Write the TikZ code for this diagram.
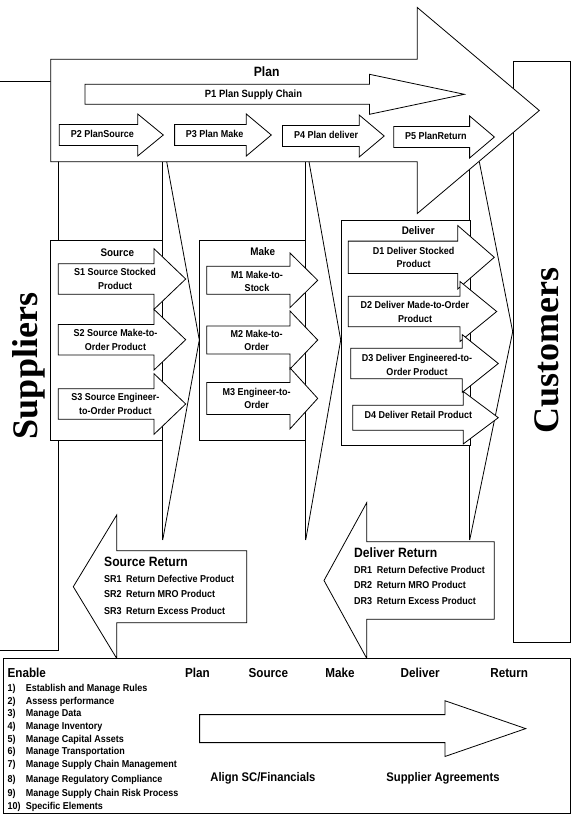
\documentclass[tikz,border=0pt]{standalone}
\usepackage{fontspec}
\newfontfamily\condsans{Liberation Sans}[FakeStretch=0.9]
\newfontfamily\sideserif{Liberation Serif}
\usetikzlibrary{positioning, math}
\tikzset{%
  % outline of every block and arrow, filled so it hides what lies below
  procbox/.style={draw=black, fill=white, line width=0.8pt, line join=miter},
  % swim lane edges and chevrons
  lane/.style={draw=black, line width=0.8pt},
  % text in the process arrows
  steptext/.style={font=\condsans\bfseries\fontsize{10}{13.5}\selectfont, align=center, inner sep=0pt},
  % titles of the blocks
  blocktitle/.style={font=\condsans\bfseries\fontsize{11}{13}\selectfont, inner sep=0pt},
  bigtitle/.style={font=\condsans\bfseries\fontsize{13.5}{15}\selectfont, inner sep=0pt},
  % suppliers and customers
  sidetext/.style={font=\sideserif\bfseries\fontsize{36}{36}\selectfont, rotate=90, inner sep=0pt}
}
% block arrow: tail x, tip x, head base x, middle y, half body, half head
\newcommand{\blockarrow}[6]{%
  \draw[procbox] (#1,{#4-#5}) -- (#3,{#4-#5}) -- (#3,{#4-#6}) -- (#2,#4)
    -- (#3,{#4+#6}) -- (#3,{#4+#5}) -- (#1,{#4+#5}) -- cycle;}

\begin{document}
\begin{tikzpicture}[x=1pt, y=-1pt]
  \useasboundingbox (0,0) rectangle (576,825);
  % supplier side and swim lanes
  \draw[lane] (0,81.7) -- (58.3,81.7) -- (58.3,650) -- (0,650);
  \foreach \lx/\cx/\px/\py in {162.7/166.7/199.3/340, 305.7/309.0/340.7/340, 469.7/479.3/512.7/331.7} {
    \draw[lane] (\lx,161.7) -- (\lx,540);
    \draw[lane] (\cx,161.7) -- (\px,\py) -- (\lx,540);
  }
  \draw[procbox] (513.3,61) rectangle (570,642.7);
  \node[sidetext] (suppliers) at (29,366) {Suppliers};
  \node[sidetext] (customers) at (546.7,350.8) {Customers};

  % plan
  \blockarrow{50.7}{539.3}{417.3}{110.5}{51.2}{103}
  \blockarrow{85}{464.3}{369.5}{94.3}{10}{20}
  \foreach \a/\b/\c/\y in {59.3/163.3/137.7/135, 174.6/271.3/246.3/135, 282.4/384.2/359.2/136, 393.7/494.4/469.6/137}
    \blockarrow{\a}{\b}{\c}{\y}{10.5}{21};
  \node[bigtitle] (plantitle) at (266.7,71.7) {Plan};
  \node[steptext, font=\condsans\bfseries\fontsize{10.5}{12}\selectfont] (p1) at (253.5,94.3) {P1 Plan Supply Chain};
  \foreach \x/\y/\name/\txt in {70.7/134/p2/P2 PlanSource, 185.7/134/p3/P3 Plan Make, 294/134.5/p4/P4 Plan deliver, 405/135.5/p5/P5 PlanReturn}
    \node[steptext, anchor=west] (\name) at (\x,\y) {\txt};

  % source
  \draw[procbox] (50.7,240.7) rectangle (162.7,440.7);
  \foreach \y in {279, 339.7, 404}
    \blockarrow{58.3}{185.7}{154}{\y}{15.3}{30.3};
  \node[blocktitle] (srctitle) at (117.3,252.3) {Source};
  \node[steptext] (s1) at (115,279) {S1 Source Stocked\\Product};
  \node[steptext] (s2) at (115.5,339.7) {S2 Source Make-to-\\Order Product};
  \node[steptext] (s3) at (115.3,403.7) {S3 Source Engineer-\\to-Order Product};

  % make
  \draw[procbox] (199.3,240.7) rectangle (305.7,440.7);
  \foreach \y/\hb/\hh in {280.3/14/27.3, 340/14/29, 398.4/16/30.5}
    \blockarrow{206.7}{317.7}{290}{\y}{\hb}{\hh};
  \node[blocktitle] (maketitle) at (262.7,251.7) {Make};
  \node[steptext] (m1) at (257,281.5) {M1 Make-to-\\Stock};
  \node[steptext] (m2) at (256.7,340.5) {M2 Make-to-\\Order};
  \node[steptext] (m3) at (256.7,398.3) {M3 Engineer-to-\\Order};

  % deliver
  \draw[procbox] (341.7,220) rectangle (470,445);
  \foreach \a/\b/\c/\y/\hb/\hh in {348.3/494.3/457.7/257.3/16.2/31.8, 348.3/496.7/460/311.5/15.3/30, 350.7/498.3/462.3/363.5/15.2/28.8, 352.7/498.3/463.3/417.7/12.5/26.2}
    \blockarrow{\a}{\b}{\c}{\y}{\hb}{\hh};
  \node[blocktitle] (deltitle) at (418.3,231) {Deliver};
  \node[steptext] (d1) at (413.7,257.5) {D1 Deliver Stocked\\Product};
  \node[steptext] (d2) at (415,312) {D2 Deliver Made-to-Order\\Product};
  \node[steptext] (d3) at (417,365) {D3 Deliver Engineered-to-\\Order Product};
  \node[steptext] (d4) at (418.3,415) {D4 Deliver Retail Product};

  % returns
  \blockarrow{246.7}{73.3}{116.7}{586.7}{36}{71.7}
  \blockarrow{494.3}{324}{366.7}{580.5}{38.8}{77.8}
  \node[bigtitle, anchor=west] (srtitle) at (104,561.7) {Source Return};
  \node[bigtitle, anchor=west] (drtitle) at (354,552.7) {Deliver Return};
  \foreach \k/\ys/\yd/\txt in {1/579.3/570/Return Defective Product, 2/594.3/585/Return MRO Product, 3/610.7/600.7/Return Excess Product} {
    \node[steptext, anchor=west] (srcode\k) at (104,\ys) {SR\k};
    \node[steptext, anchor=west] (srtext\k) at (126,\ys) {\txt};
    \node[steptext, anchor=west] (drcode\k) at (354,\yd) {DR\k};
    \node[steptext, anchor=west] (drtext\k) at (376.7,\yd) {\txt};
  }

  % enable
  \draw[procbox] (3,658.3) rectangle (570,813);
  \blockarrow{199.6}{525.7}{444.9}{728.6}{14}{27.9}
  \node[bigtitle, font=\condsans\bfseries\fontsize{13}{15}\selectfont, anchor=base west] (enable) at (7.4,677) {Enable};
  \foreach \x/\txt in {197.4/Plan, 268.4/Source, 340/Make, 420.2/Deliver, 509.2/Return}
    \node[bigtitle, font=\condsans\bfseries\fontsize{13}{15}\selectfont, anchor=base] (hd\txt) at (\x,677) {\txt};
  \foreach \n/\y/\txt in {1/687.7/Establish and Manage Rules, 2/701/Assess performance, 3/713.3/Manage Data, 4/726/Manage Inventory, 5/739/Manage Capital Assets, 6/751/Manage Transportation, 7/764.3/Manage Supply Chain Management, 8/779/Manage Regulatory Compliance, 9/793.3/Manage Supply Chain Risk Process, 10/805.7/Specific Elements} {
    \node[steptext, anchor=base west] (ennum\n) at (7.4,\y+3.6) {\n)};
    \node[steptext, anchor=base west] (entext\n) at (25.7,\y+3.6) {\txt};
  }
  \node[bigtitle, font=\condsans\bfseries\fontsize{12.5}{14}\selectfont] (align) at (262.9,778.3) {Align SC/Financials};
  \node[bigtitle, font=\condsans\bfseries\fontsize{12.5}{14}\selectfont] (agree) at (443,778.3) {Supplier Agreements};
\end{tikzpicture}
\end{document}
